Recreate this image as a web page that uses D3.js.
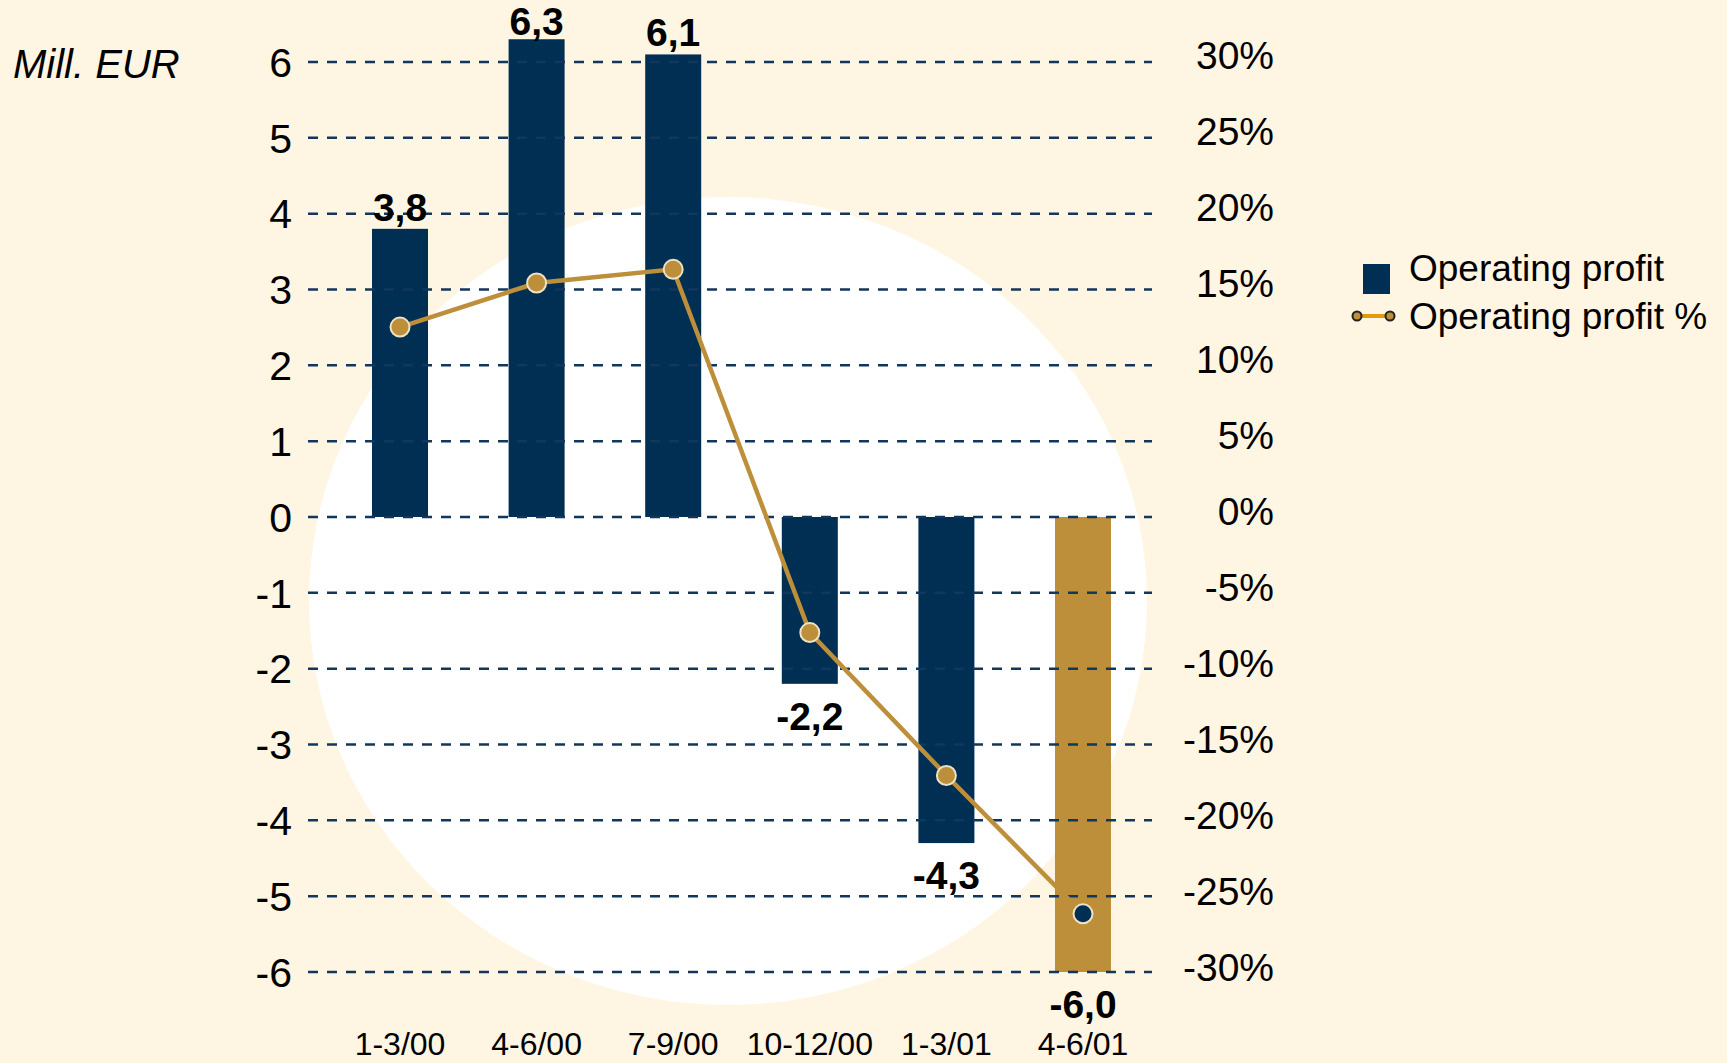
<!DOCTYPE html>
<html>
<head>
<meta charset="utf-8">
<script src="https://cdn.jsdelivr.net/npm/d3@7"></script>
<style>
  html, body { margin: 0; padding: 0; background: #fef5e3; }
  svg { display: block; font-family: "Liberation Sans", Arial, sans-serif; }
</style>
</head>
<body>
<div id="chart"></div>
<script>
// chart data
const quarters = ["1-3/00", "4-6/00", "7-9/00", "10-12/00", "1-3/01", "4-6/01"];
const profit = [3.8, 6.3, 6.1, -2.2, -4.3, -6.0];
const profitPct = [12.1, 15.0, 15.9, -8.0, -17.4, -26.5];
const leftTicks = [6, 5, 4, 3, 2, 1, 0, -1, -2, -3, -4, -5, -6];
const rightTicks = [30, 25, 20, 15, 10, 5, 0, -5, -10, -15, -20, -25, -30];

const svgWidth = 1727, svgHeight = 1063;
const navy = "#002f54", gold = "#bd8f3a";

const svg = d3.select("#chart").append("svg")
  .attr("width", svgWidth)
  .attr("height", svgHeight);

svg.append("rect")
  .attr("width", svgWidth).attr("height", svgHeight)
  .attr("fill", "#fef5e3");

// white disc behind the plot
svg.append("ellipse")
  .attr("cx", 728).attr("cy", 601)
  .attr("rx", 419).attr("ry", 404)
  .attr("fill", "#ffffff");

// scales
const x = d3.scalePoint().domain(quarters).range([400, 1083]);
const y = d3.scaleLinear().domain([-6, 6]).range([972, 62]);
const yPct = d3.scaleLinear().domain([-30, 30]).range([967, 55]);
const barW = 56;

// bars
svg.selectAll(".bar")
  .data(profit)
  .enter().append("rect")
    .attr("class", "bar")
    .attr("x", (d, i) => x(quarters[i]) - barW / 2)
    .attr("y", d => y(Math.max(0, d)))
    .attr("width", barW)
    .attr("height", d => Math.abs(y(d) - y(0)))
    .attr("fill", (d, i) => i === profit.length - 1 ? gold : navy);

// dashed grid lines (drawn over the bars)
svg.selectAll(".grid")
  .data(leftTicks)
  .enter().append("line")
    .attr("class", "grid")
    .attr("x1", 308).attr("x2", 1152)
    .attr("y1", d => y(d)).attr("y2", d => y(d))
    .attr("stroke", "#12375c")
    .attr("stroke-width", 2.5)
    .attr("stroke-dasharray", "10,9");

// left axis labels
svg.selectAll(".ltick")
  .data(leftTicks)
  .enter().append("text")
    .attr("class", "ltick")
    .attr("x", 292)
    .attr("y", d => y(d))
    .attr("dy", "0.36em")
    .attr("text-anchor", "end")
    .style("font-size", "41px")
    .text(d => d);

// right axis labels
svg.selectAll(".rtick")
  .data(rightTicks)
  .enter().append("text")
    .attr("class", "rtick")
    .attr("x", 1274)
    .attr("y", d => yPct(d))
    .attr("dy", "0.36em")
    .attr("text-anchor", "end")
    .style("font-size", "39px")
    .text(d => d + "%");

// unit label
svg.append("text")
  .attr("x", 13).attr("y", 78)
  .style("font-size", "40px")
  .style("font-style", "italic")
  .text("Mill. EUR");

// category labels
svg.selectAll(".xlab")
  .data(quarters)
  .enter().append("text")
    .attr("class", "xlab")
    .attr("x", d => x(d))
    .attr("y", 1055)
    .attr("text-anchor", "middle")
    .style("font-size", "32px")
    .text(d => d);

// value labels (kept inside the top edge)
svg.selectAll(".vlab")
  .data(profit)
  .enter().append("text")
    .attr("class", "vlab")
    .attr("x", (d, i) => x(quarters[i]))
    .attr("y", d => d >= 0 ? Math.max(y(d) - 8, 35) : y(d) + 46)
    .attr("text-anchor", "middle")
    .style("font-size", "39px")
    .style("font-weight", "bold")
    .text(d => d.toFixed(1).replace(".", ","));

// percentage line
const line = d3.line()
  .x((d, i) => x(quarters[i]))
  .y(d => yPct(d));

svg.append("path")
  .datum(profitPct)
  .attr("d", line)
  .attr("fill", "none")
  .attr("stroke", gold)
  .attr("stroke-width", 4.5);

svg.selectAll(".dot")
  .data(profitPct)
  .enter().append("circle")
    .attr("class", "dot")
    .attr("cx", (d, i) => x(quarters[i]))
    .attr("cy", d => yPct(d))
    .attr("r", 9.5)
    .attr("fill", (d, i) => i === profitPct.length - 1 ? navy : gold)
    .attr("stroke", "#ede2c4")
    .attr("stroke-width", 2);

// legend
const legend = svg.append("g");
legend.append("rect")
  .attr("x", 1363).attr("y", 264)
  .attr("width", 27).attr("height", 30)
  .attr("fill", navy);
legend.append("text")
  .attr("x", 1409).attr("y", 281)
  .style("font-size", "37px")
  .text("Operating profit");

legend.append("line")
  .attr("x1", 1357).attr("x2", 1390)
  .attr("y1", 316).attr("y2", 316)
  .attr("stroke", "#e39b0c")
  .attr("stroke-width", 4);
legend.selectAll(".lgdot")
  .data([1357, 1390])
  .enter().append("circle")
    .attr("cx", d => d).attr("cy", 316)
    .attr("r", 4.5)
    .attr("fill", gold)
    .attr("stroke", "#222")
    .attr("stroke-width", 2);
legend.append("text")
  .attr("x", 1409).attr("y", 329)
  .style("font-size", "37px")
  .text("Operating profit %");
</script>
</body>
</html>
